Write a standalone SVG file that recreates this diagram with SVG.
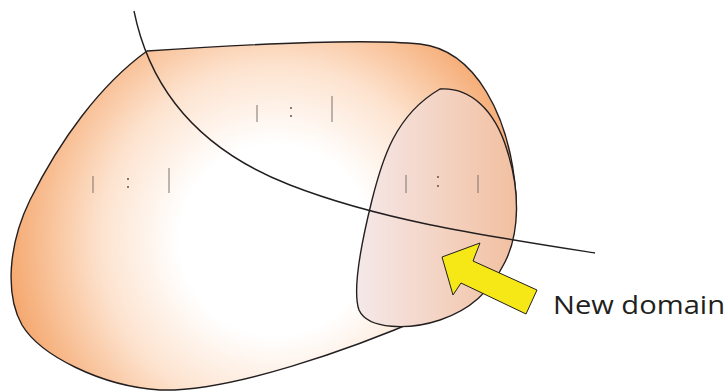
<svg xmlns="http://www.w3.org/2000/svg" width="728" height="392" viewBox="0 0 728 392">
<defs>
<radialGradient id="gBig" gradientUnits="userSpaceOnUse" cx="275" cy="240" r="290">
<stop offset="0" stop-color="#ffffff"/>
<stop offset="0.33" stop-color="#ffffff"/>
<stop offset="0.6" stop-color="#fde3cf"/>
<stop offset="1" stop-color="#f39a58"/>
</radialGradient>
<linearGradient id="gSmall" gradientUnits="userSpaceOnUse" x1="358" y1="0" x2="520" y2="0">
<stop offset="0" stop-color="#f5e8e9"/>
<stop offset="1" stop-color="#f2bf9e"/>
</linearGradient>
<style>
.outline{stroke:#231f20;stroke-width:1.4;}
.mark{stroke:#7a726e;stroke-width:1;}
.dot{fill:#4a4442;}
.label{font-family:"Open Sans","Liberation Sans",sans-serif;font-size:26px;fill:#231f20;}
</style>
</defs>
<g id="domain">
<path class="outline" fill="url(#gBig)" d="M147,51 C250,44 360,38 420,44 C475,50 510,115 516,195 C520,250 490,285 430,315 C350,350 230,392 160,390 C100,386 40,355 22,325 C5,295 8,245 30,200 C60,140 100,85 147,51 Z"/>
<g id="marks1">
<line class="mark" x1="93" y1="176" x2="93" y2="193"/>
<circle class="dot" cx="128" cy="179" r="0.9"/>
<circle class="dot" cx="128" cy="187" r="0.9"/>
<line class="mark" x1="169" y1="168" x2="169" y2="193"/>
</g>
<g id="marks2">
<line class="mark" x1="257" y1="105" x2="257" y2="122"/>
<circle class="dot" cx="291" cy="108" r="0.9"/>
<circle class="dot" cx="291" cy="116" r="0.9"/>
<line class="mark" x1="332" y1="96" x2="332" y2="122"/>
</g>
</g>
<g id="new-domain">
<path class="outline" fill="url(#gSmall)" d="M440,89 C470,87 495,110 507,150 C520,190 520,232 505,262 C490,292 470,310 440,320 C410,330 368,330 359,310 C352,290 362,240 372,200 C382,160 395,115 440,89 Z"/>
<g id="marks3">
<line class="mark" x1="406" y1="175" x2="406" y2="193"/>
<circle class="dot" cx="438" cy="177" r="0.9"/>
<circle class="dot" cx="438" cy="186" r="0.9"/>
<line class="mark" x1="478" y1="175" x2="478" y2="193"/>
</g>
</g>
<g id="connectors">
<path class="outline" fill="none" stroke-width="1.3" d="M134,11 C150,90 200,150 290,185 C380,220 480,235 595,253"/>
</g>
<g id="arrow">
<polygon points="442,257 480,243 473,261 537,290 526,314 461,283 453,295" fill="#f5e816" stroke="#231f20" stroke-width="1" stroke-linejoin="miter"/>
</g>
<g id="label">
<text class="label" x="553" y="314" textLength="172" lengthAdjust="spacingAndGlyphs">New domain</text>
</g>
</svg>
